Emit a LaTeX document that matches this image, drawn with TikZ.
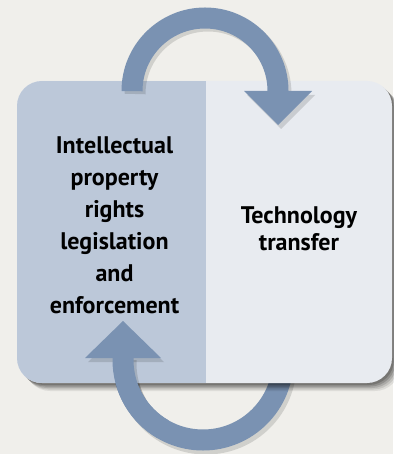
\documentclass[tikz,border=0pt]{standalone}
\usepackage{fontspec}
\setmainfont{PT Sans}
\definecolor{bg}{HTML}{F0EFEB}
\definecolor{leftc}{HTML}{BCC8D9}
\definecolor{rightc}{HTML}{E8EBF0}
\definecolor{arrowc}{HTML}{7A92B2}
\tikzset{
  shaft/.style={draw=arrowc, line width=21pt},
  shshaft/.style={draw=black, opacity=0.13, line width=21pt},
  head/.style={fill=arrowc},
  shad/.style={fill=black, opacity=0.13},
  lbl/.style={align=center, text=black, inner sep=0pt}
}
\begin{document}
\begin{tikzpicture}[x=1pt,y=-1pt]
\useasboundingbox (0,0) rectangle (393,454);
\fill[bg] (0,0) rectangle (393,454);
% bottom arc, behind box
\draw[shshaft] (126,364) arc[start angle=180, end angle=0, radius=80];
\draw[shaft] (123,360) arc[start angle=180, end angle=0, radius=80];
% box shadow
\foreach \d/\o in {8/0.08,6.5/0.10,5/0.13,3.5/0.16,2/0.18}{
  \fill[black, opacity=\o, rounded corners=25pt] (17+\d,81+\d) rectangle (392+\d,383+\d);
}
% box
\fill[rightc, rounded corners=25pt] (17,81) rectangle (392,383);
\begin{scope}
\clip[rounded corners=25pt] (17,81) rectangle (392,383);
\fill[leftc] (17,81) rectangle (206,383);
\end{scope}
\coordinate (boxL) at (114.5,225.5);
\coordinate (boxR) at (299,229);
% bottom arrow front part
\begin{scope}
\clip (0,0) rectangle (206,454);
\draw[shshaft] (126,360) -- (126,364) arc[start angle=180, end angle=150, radius=80];
\fill[shad] (88,362) -- (164,362) -- (126,325) -- cycle;
\end{scope}
\draw[shaft] (123,358) -- (123,360) arc[start angle=180, end angle=120, radius=80];
\fill[head] (85,358) -- (161,358) -- (123,321) -- cycle;
% top arrow
\draw[shshaft] (135,94) arc[start angle=180, end angle=360, radius=73];
\fill[shad] (247,95) -- (315,95) -- (281,129) -- cycle;
\draw[shaft] (132,90) -- (132,91) arc[start angle=180, end angle=360, radius=73] -- (278,92);
\fill[head] (244,91) -- (312,91) -- (278,125) -- cycle;
% labels
\node[lbl, font=\fontsize{24}{32}\selectfont\bfseries] (ipr) at (boxL) {Intellectual\\property\\rights\\legislation\\and\\enforcement};
\node[lbl, font=\fontsize{24}{27}\selectfont\bfseries] (tt) at (boxR) {Technology\\transfer};
\end{tikzpicture}
\end{document}
